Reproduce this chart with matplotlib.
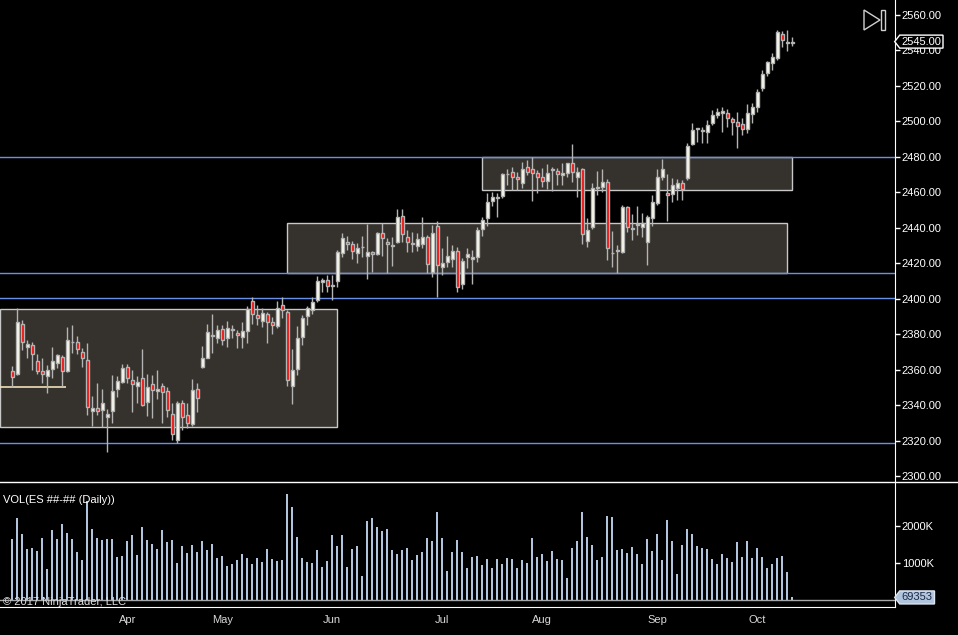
import matplotlib
matplotlib.use("Agg")
import matplotlib.pyplot as plt
from matplotlib.patches import Rectangle, Polygon
from matplotlib.lines import Line2D
import numpy as np
import pandas as pd

plt.rcParams["font.family"] = ["Liberation Sans", "DejaVu Sans"]

# ES daily bars, Feb 28 - Oct 10 2017
holidays = ["2017-04-14", "2017-05-29", "2017-07-04", "2017-09-04"]
dates = pd.bdate_range("2017-02-28", "2017-10-10")
dates = dates[~dates.isin(pd.to_datetime(holidays))]

opens = [
    2359.2, 2357.9, 2385.7, 2373.1, 2373.8, 2364.8, 2359.2, 2356.7, 2360.7, 2364.1,
    2367.2, 2359.5, 2375.5, 2375.5, 2369.9, 2365.4, 2336.8, 2338.7, 2337.4, 2333.4,
    2336.6, 2349.4, 2353.3, 2361.8, 2354.1, 2350.7, 2355.2, 2341.9, 2351.8, 2347.9,
    2350.7, 2348.1, 2334.9, 2320.5, 2341.1, 2334.5, 2329.5, 2349.0, 2361.8, 2366.5,
    2379.1, 2377.8, 2382.9, 2377.8, 2382.5, 2380.6, 2378.3, 2382.1, 2399.0, 2390.7,
    2387.7, 2391.3, 2386.8, 2384.9, 2396.4, 2392.8, 2351.1, 2360.3, 2378.3, 2390.4,
    2393.8, 2399.4, 2409.7, 2410.6, 2407.4, 2410.2, 2425.6, 2431.8, 2430.7, 2426.0,
    2429.0, 2424.1, 2426.6, 2425.3, 2436.9, 2432.2, 2430.0, 2432.2, 2446.7, 2434.7,
    2430.9, 2430.0, 2430.9, 2434.6, 2415.3, 2441.0, 2418.0, 2420.5, 2422.2, 2426.9,
    2408.1, 2423.4, 2422.2, 2423.4, 2439.3, 2445.4, 2455.3, 2457.6, 2458.1, 2470.3,
    2471.5, 2468.6, 2465.4, 2474.1, 2473.2, 2470.7, 2468.8, 2466.6, 2472.6, 2472.0,
    2469.6, 2470.7, 2476.3, 2468.5, 2473.0, 2432.8, 2440.3, 2463.2, 2463.2, 2465.6,
    2425.6, 2427.1, 2426.6, 2451.6, 2439.4, 2441.6, 2440.7, 2432.2, 2445.4, 2453.8,
    2468.9, 2459.9, 2458.9, 2462.7, 2465.1, 2468.3, 2487.1, 2495.8, 2494.8, 2494.3,
    2499.3, 2503.6, 2504.6, 2505.0, 2501.4, 2499.5, 2498.4, 2495.6, 2504.0, 2508.4,
    2518.7, 2527.5, 2533.1, 2535.6, 2549.1, 2544.4, 2544.0,
]
highs = [
    2362.4, 2394.7, 2388.1, 2376.8, 2375.9, 2368.8, 2366.5, 2362.7, 2372.9, 2368.8,
    2368.4, 2384.2, 2385.3, 2378.9, 2372.1, 2375.0, 2345.3, 2352.4, 2349.0, 2337.8,
    2357.1, 2356.7, 2363.3, 2363.1, 2359.9, 2356.7, 2371.8, 2357.7, 2357.1, 2359.9,
    2352.4, 2350.5, 2341.1, 2342.6, 2343.0, 2341.1, 2354.7, 2352.4, 2373.4, 2385.8,
    2391.5, 2385.3, 2385.3, 2387.7, 2385.3, 2382.5, 2387.2, 2396.0, 2400.9, 2396.6,
    2394.7, 2392.8, 2390.0, 2398.8, 2400.9, 2393.8, 2371.8, 2384.7, 2390.9, 2396.0,
    2400.9, 2413.0, 2411.9, 2413.4, 2413.4, 2427.5, 2436.9, 2435.4, 2432.8, 2431.6,
    2435.4, 2442.2, 2427.1, 2437.9, 2442.5, 2434.1, 2435.0, 2450.4, 2450.4, 2438.8,
    2437.9, 2436.9, 2446.3, 2436.0, 2441.6, 2444.0, 2428.4, 2435.4, 2430.3, 2429.0,
    2423.2, 2428.4, 2427.5, 2440.7, 2446.3, 2459.8, 2460.4, 2459.4, 2470.7, 2473.0,
    2474.1, 2471.7, 2477.3, 2478.2, 2479.7, 2472.6, 2473.5, 2476.0, 2474.5, 2473.5,
    2476.4, 2476.7, 2487.2, 2474.5, 2473.5, 2445.4, 2465.4, 2472.2, 2473.0, 2467.3,
    2438.4, 2430.3, 2452.9, 2452.3, 2447.8, 2452.3, 2448.2, 2447.3, 2458.5, 2473.0,
    2478.7, 2470.4, 2467.9, 2467.4, 2467.0, 2487.7, 2499.0, 2496.5, 2497.1, 2500.8,
    2506.5, 2507.5, 2508.0, 2506.8, 2502.7, 2505.2, 2501.8, 2509.8, 2510.2, 2518.1,
    2529.0, 2534.3, 2538.4, 2551.6, 2551.0, 2551.6, 2547.8,
]
lows = [
    2350.2, 2357.1, 2371.2, 2366.9, 2359.9, 2357.7, 2352.4, 2347.1, 2355.2, 2360.9,
    2351.1, 2359.0, 2369.3, 2368.8, 2361.8, 2334.6, 2328.5, 2334.6, 2328.0, 2313.9,
    2329.9, 2344.9, 2352.4, 2352.8, 2336.4, 2341.1, 2339.6, 2334.2, 2333.0, 2343.6,
    2329.8, 2333.6, 2320.5, 2319.0, 2326.1, 2327.0, 2328.3, 2336.4, 2361.2, 2366.5,
    2369.3, 2375.0, 2374.0, 2373.1, 2377.8, 2372.1, 2372.1, 2375.0, 2385.9, 2385.3,
    2384.0, 2375.3, 2380.2, 2383.4, 2389.1, 2350.9, 2340.8, 2357.1, 2374.0, 2385.3,
    2391.5, 2398.5, 2404.0, 2404.0, 2399.3, 2406.8, 2423.4, 2427.5, 2422.3, 2420.4,
    2423.8, 2411.0, 2415.3, 2424.7, 2424.1, 2414.7, 2418.7, 2431.6, 2432.2, 2426.6,
    2426.6, 2427.1, 2428.4, 2414.7, 2412.5, 2401.2, 2413.4, 2418.1, 2417.7, 2403.6,
    2405.5, 2417.2, 2408.3, 2420.6, 2435.4, 2441.0, 2452.3, 2446.3, 2456.6, 2464.1,
    2461.3, 2461.5, 2462.3, 2469.8, 2455.3, 2459.8, 2463.2, 2461.7, 2461.0, 2464.1,
    2464.1, 2468.8, 2466.0, 2457.6, 2430.9, 2429.0, 2439.1, 2458.5, 2460.4, 2421.9,
    2418.1, 2414.3, 2425.7, 2437.9, 2433.2, 2436.0, 2435.1, 2419.1, 2441.1, 2452.9,
    2467.0, 2444.1, 2454.8, 2455.7, 2455.7, 2467.0, 2486.7, 2488.6, 2487.7, 2487.7,
    2498.0, 2502.0, 2494.2, 2497.1, 2492.4, 2485.2, 2492.4, 2493.3, 2499.3, 2505.2,
    2517.4, 2525.8, 2529.0, 2534.7, 2542.2, 2539.9, 2542.7,
]
closes = [
    2356.2, 2386.8, 2375.5, 2374.4, 2368.8, 2359.5, 2357.5, 2359.7, 2364.8, 2368.2,
    2359.2, 2376.6, 2375.5, 2371.6, 2366.5, 2338.9, 2338.7, 2336.8, 2341.1, 2334.9,
    2347.9, 2353.7, 2360.9, 2355.6, 2352.2, 2353.1, 2340.2, 2350.1, 2348.6, 2349.2,
    2347.3, 2337.4, 2323.7, 2341.1, 2333.6, 2329.8, 2348.6, 2343.9, 2366.5, 2381.1,
    2379.1, 2382.3, 2376.8, 2383.4, 2382.5, 2379.5, 2381.9, 2394.1, 2391.5, 2389.4,
    2391.9, 2387.2, 2385.3, 2394.7, 2393.8, 2354.3, 2359.9, 2377.8, 2389.1, 2394.7,
    2398.5, 2409.9, 2410.6, 2407.2, 2407.4, 2426.6, 2434.1, 2430.9, 2427.1, 2428.4,
    2429.0, 2426.6, 2425.3, 2436.9, 2434.1, 2430.7, 2430.0, 2446.3, 2436.5, 2432.2,
    2430.9, 2433.5, 2434.6, 2419.4, 2436.9, 2419.0, 2420.0, 2424.1, 2426.9, 2406.8,
    2421.3, 2425.4, 2423.4, 2438.8, 2444.4, 2454.7, 2457.2, 2456.6, 2470.3, 2470.3,
    2468.5, 2467.3, 2473.0, 2471.7, 2470.7, 2468.8, 2466.6, 2470.7, 2472.6, 2470.5,
    2470.9, 2476.3, 2471.3, 2471.7, 2436.5, 2438.8, 2462.3, 2462.3, 2466.0, 2428.4,
    2425.6, 2427.1, 2451.6, 2440.3, 2439.4, 2441.6, 2442.6, 2446.0, 2454.4, 2468.5,
    2473.2, 2458.4, 2464.2, 2465.1, 2461.7, 2486.4, 2495.2, 2495.8, 2494.8, 2498.0,
    2503.6, 2505.1, 2505.9, 2501.8, 2499.9, 2497.6, 2495.8, 2505.0, 2508.4, 2516.4,
    2526.6, 2533.3, 2536.5, 2550.6, 2545.9, 2544.4, 2545.0,
]
# volume in thousands of contracts
volume_k = [
    1649, 2216, 1784, 1378, 1405, 1324, 1676, 838, 1892, 1649,
    2054, 1811, 1649, 1297, 1081, 2667, 1919, 1676, 1622, 1649,
    1649, 1162, 1189, 1595, 1757, 1216, 1973, 1622, 1514, 1378,
    1892, 1568, 1622, 1000, 1459, 1270, 1486, 1297, 1595, 1351,
    1514, 1135, 1189, 919, 973, 1081, 1243, 1135, 973, 1135,
    1027, 1378, 1108, 1054, 1081, 2865, 2514, 1703, 1135, 1027,
    1000, 1351, 892, 1054, 1757, 1459, 1757, 892, 1378, 1459,
    649, 2135, 2216, 1973, 1865, 1919, 1351, 1243, 1351, 1405,
    1081, 1216, 1297, 1676, 1595, 2378, 1676, 784, 1297, 1622,
    1297, 865, 1162, 1189, 946, 1108, 865, 1108, 973, 1135,
    1108, 865, 1081, 1000, 1676, 1162, 1243, 1054, 1324, 1108,
    1081, 595, 1405, 1595, 2378, 1703, 1486, 1081, 1162, 2270,
    2243, 1351, 1378, 1270, 1432, 1243, 973, 1649, 1324, 1784,
    1081, 2162, 1595, 703, 1486, 1919, 1784, 1459, 1405, 1378,
    1108, 973, 1243, 1135, 1027, 1568, 1162, 1595, 1135, 1405,
    1162, 865, 973, 1135, 1189, 757, 69.353,
]

# drawn objects on the chart
levels = [2480.0, 2414.6, 2400.5, 2318.7]
short_level = 2350.2
short_level_end = "2017-03-14"
zone_starts = [None, "2017-05-17", "2017-07-13"]
zone_ends = ["2017-06-01", "2017-10-09", "2017-10-10"]
zone_lows = [2327.8, 2414.6, 2461.4]
zone_highs = [2394.3, 2442.7, 2480.0]

BG = "#000000"
WICK = "#b4b4b4"
UP = "#fffff0"
DOWN = "#ff0000"
VOLC = "#b0c4de"
LEVELC = "#6a8fe6"
ZONEF = "#35312c"
ZONEE = "#c8c8c8"

W, H = 958, 635
AX_RIGHT = 894.7
SEP_Y = 482
VOL_BOTTOM = 607

x = np.arange(len(dates))
pos = {d: i for i, d in enumerate(dates)}
xmin, xmax = -2.46, 176.48

fig = plt.figure(figsize=(W / 100, H / 100), dpi=100, facecolor=BG)
ax = fig.add_axes([0, 1 - SEP_Y / H, AX_RIGHT / W, SEP_Y / H], facecolor=BG)
ax_v = fig.add_axes([0, 1 - VOL_BOTTOM / H, AX_RIGHT / W, (VOL_BOTTOM - SEP_Y) / H],
                    facecolor=BG, sharex=ax)

# zones and levels
for s, e, lo, hi in zip(zone_starts, zone_ends, zone_lows, zone_highs):
    x0 = xmin if s is None else pos[pd.Timestamp(s)]
    x1 = pos[pd.Timestamp(e)]
    ax.add_patch(Rectangle((x0, lo), x1 - x0, hi - lo, facecolor=ZONEF,
                           edgecolor=ZONEE, lw=1, zorder=1))
for lv in levels:
    ax.axhline(lv, color=LEVELC, lw=1, zorder=2)
ax.hlines(short_level, xmin, pos[pd.Timestamp(short_level_end)] + 0.7,
          color="#f0e0b8", lw=1.2, zorder=2)

# candles
o = np.array(opens)
c = np.array(closes)
up = c >= o
body_lo = np.minimum(o, c)
body_h = np.maximum(np.abs(c - o), 0.35)
ax.vlines(x, lows, highs, color=WICK, lw=1, zorder=3)
ax.bar(x[up], body_h[up], bottom=body_lo[up], width=0.62, color=UP,
       edgecolor=WICK, lw=1, zorder=4)
ax.bar(x[~up], body_h[~up], bottom=body_lo[~up], width=0.62, color=DOWN,
       edgecolor=WICK, lw=1, zorder=4)

ax.set_xlim(xmin, xmax)
ax.set_ylim(2296.75, 2568.46)
ax.set_yticks(np.arange(2300, 2561, 20))
ax.yaxis.set_major_formatter(matplotlib.ticker.FormatStrFormatter("%.2f"))
ax.yaxis.tick_right()
ax.tick_params(axis="y", colors="white", labelsize=8, length=3.5, width=1, pad=1.5)
ax.tick_params(axis="x", bottom=False, labelbottom=False)
for side in ["top", "left", "bottom"]:
    ax.spines[side].set_visible(False)
ax.spines["right"].set_color("white")

# volume
ax_v.bar(x, volume_k, width=0.4, color=VOLC, zorder=2)
ax_v.axhline(0, color="#a8a8a8", lw=1, zorder=3)
ax_v.set_ylim(-189, 3189)
ax_v.set_yticks([1000, 2000])
ax_v.set_yticklabels(["1000K", "2000K"])
ax_v.yaxis.tick_right()
ax_v.tick_params(axis="y", colors="white", labelsize=8, length=3.5, width=1, pad=1.5)
for side in ["top", "left"]:
    ax_v.spines[side].set_visible(False)
ax_v.spines["right"].set_color("white")
ax_v.spines["bottom"].set_color("white")

# month labels on first session of each month (NinjaTrader draws them a bar early)
months = pd.Series(x, index=dates).groupby(dates.to_period("M")).first()
months = months[months.index >= pd.Period("2017-04", "M")]
ax_v.set_xticks(months.values - 1)
ax_v.set_xticklabels([p.strftime("%b") for p in months.index])
ax_v.tick_params(axis="x", length=0, colors="#d8d8d8", labelsize=8, pad=6)

# separator across the whole window
fig.add_artist(Line2D([0, 1], [1 - SEP_Y / H] * 2, color="white", lw=1,
                      transform=fig.transFigure))

fig.text(3 / W, 1 - 500 / H, "VOL(ES ##-## (Daily))", color="white",
         fontsize=8, va="center", ha="left")
fig.text(3 / W, 1 - 602 / H, "\u00a9 2017 NinjaTrader, LLC", color="#e0e0e0",
         fontsize=8, va="center", ha="left", zorder=5)


def value_tag(axis, value, text, face, edge, tcolor, right):
    yc = axis.transData.transform((0, value))[1]
    xa = AX_RIGHT
    pts = [(xa, yc), (xa + 5, yc + 6.5), (right, yc + 6.5),
           (right, yc - 6.5), (xa + 5, yc - 6.5)]
    fig.add_artist(Polygon(pts, closed=True, facecolor=face, edgecolor=edge,
                           lw=1, transform=None, zorder=4))
    fig.text((xa + 7) / W, yc / H, text, color=tcolor, fontsize=8,
             va="center", ha="left", zorder=6)


value_tag(ax, closes[-1], f"{closes[-1]:.2f}", BG, "white", "white", 943)
value_tag(ax_v, volume_k[-1], f"{volume_k[-1] * 1000:.0f}", VOLC, "#dde6f2",
          "#1c2a44", 934.5)

# play-to-end icon, top right
tri = [(864, H - 10), (864, H - 30), (880, H - 20)]
fig.add_artist(Polygon(tri, closed=True, fill=False, edgecolor="#d0d0d0",
                       lw=1, transform=None))
fig.add_artist(Rectangle((881.3, H - 30), 3.4, 19.7, fill=False,
                         edgecolor="#d0d0d0", lw=1, transform=None))

fig.savefig("out.png", dpi=100, facecolor=BG)
